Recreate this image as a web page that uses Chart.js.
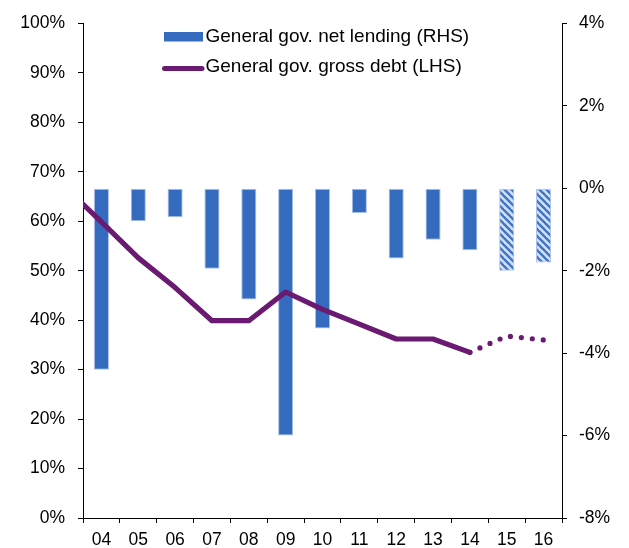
<!DOCTYPE html>
<html>
<head>
<meta charset="utf-8">
<script src="https://cdn.jsdelivr.net/npm/chart.js@4.4.1/dist/chart.umd.min.js"></script>
<style>
  html, body { margin: 0; padding: 0; background: #ffffff; }
  #wrap { width: 629px; height: 548px; }
</style>
</head>
<body>
<div id="wrap"><canvas id="c" width="629" height="548"></canvas></div>
<script>
// ---- data ----
const categories = ['04', '05', '06', '07', '08', '09', '10', '11', '12', '13', '14', '15', '16'];
const netLending = [-4.4, -0.8, -0.7, -1.95, -2.7, -6.0, -3.4, -0.6, -1.7, -1.25, -1.5, -2.0, -1.8];
const debtYears = [3, 4, 5, 6, 7, 8, 9, 10, 11, 12, 13, 14, 15, 16];
const grossDebt = [67.0, 59.9, 52.6, 46.6, 39.9, 39.9, 45.7, 42.2, 39.2, 36.2, 36.2, 33.5, 36.8, 36.0];
const forecastFrom = '15';
const leftTicks = [0, 10, 20, 30, 40, 50, 60, 70, 80, 90, 100];
const rightTicks = [-8, -6, -4, -2, 0, 2, 4];
const barLabel = 'General gov. net lending (RHS)';
const lineLabel = 'General gov. gross debt (LHS)';

// ---- styles ----
const BLUE = '#346bbf';
const BLUE_EDGE = '#a9c0e8';
const PURPLE = '#6a1a70';
const FONT = "'Liberation Sans', Arial, sans-serif";

function makeHatch() {
  const s = 7;
  const c = document.createElement('canvas');
  c.width = s; c.height = s;
  const g = c.getContext('2d');
  g.fillStyle = '#d2e0f4';
  g.fillRect(0, 0, s, s);
  g.strokeStyle = '#3f74c6';
  g.lineWidth = 2.4;
  for (const k of [-s, 0, s]) {
    g.beginPath();
    g.moveTo(k - 1, -1);
    g.lineTo(k + s + 1, s + 1);
    g.stroke();
  }
  return g.createPattern(c, 'repeat');
}
const hatch = makeHatch();
const forecastIdx = categories.indexOf(forecastFrom);
const barColors = categories.map((c, i) => i >= forecastIdx ? hatch : BLUE);

const lineData = debtYears.map((yr, i) => ({ x: yr - 4, y: grossDebt[i] }));
const lastActualIdx = debtYears.indexOf(14);

// custom legend drawn inside plot area
const insideLegend = {
  id: 'insideLegend',
  afterDraw(chart) {
    const ctx = chart.ctx;
    const ds = chart.data.datasets;
    ctx.save();
    ctx.font = '19px ' + FONT;
    ctx.textBaseline = 'middle';
    ctx.fillStyle = BLUE;
    ctx.fillRect(164, 32, 39, 9.5);
    ctx.fillStyle = '#000';
    ctx.fillText(ds[0].label, 205.5, 36.5);
    ctx.strokeStyle = ds[1].borderColor;
    ctx.lineWidth = 5;
    ctx.lineCap = 'round';
    ctx.beginPath();
    ctx.moveTo(164.5, 68.5);
    ctx.lineTo(202, 68.5);
    ctx.stroke();
    ctx.fillText(ds[1].label, 205.5, 66.5);
    ctx.restore();
  }
};

const tickFont = { family: FONT, size: 17.5 };

new Chart(document.getElementById('c'), {
  data: {
    labels: categories,
    datasets: [
      {
        type: 'bar',
        label: barLabel,
        data: netLending,
        yAxisID: 'y2',
        xAxisID: 'x',
        backgroundColor: barColors,
        borderColor: BLUE_EDGE,
        borderWidth: 1,
        borderSkipped: false,
        grouped: false,
        barPercentage: 0.41,
        categoryPercentage: 1.0,
        order: 2
      },
      {
        type: 'line',
        label: lineLabel,
        data: lineData,
        yAxisID: 'y',
        xAxisID: 'xl',
        borderColor: PURPLE,
        borderWidth: 5.2,
        borderCapStyle: 'round',
        borderJoinStyle: 'round',
        pointRadius: 0,
        tension: 0,
        fill: false,
        clip: 0,
        order: 1,
        segment: {
          borderDash: ctx => ctx.p0DataIndex >= lastActualIdx ? [0, 11] : undefined
        }
      }
    ]
  },
  options: {
    responsive: false,
    animation: false,
    events: [],
    layout: { padding: { top: 22, left: 0, right: 0, bottom: 0 } },
    plugins: {
      legend: { display: false },
      tooltip: { enabled: false }
    },
    scales: {
      x: {
        type: 'category',
        position: 'bottom',
        offset: true,
        grid: {
          offset: true,
          drawOnChartArea: false,
          drawTicks: true,
          tickLength: 5,
          color: '#000',
          lineWidth: 1
        },
        border: { color: '#000', width: 1 },
        ticks: { font: tickFont, color: '#000', padding: 7, maxRotation: 0, autoSkip: false },
        afterFit: s => { s.height = 30; }
      },
      xl: {
        type: 'linear',
        display: false,
        offset: false,
        min: -0.5,
        max: 12.5
      },
      y: {
        type: 'linear',
        position: 'left',
        min: 0,
        max: 100,
        afterBuildTicks: s => { s.ticks = leftTicks.map(v => ({ value: v })); },
        grid: {
          drawOnChartArea: false,
          drawTicks: true,
          tickLength: 5,
          color: '#000'
        },
        border: { color: '#000', width: 1 },
        ticks: { font: tickFont, color: '#000', padding: 13, callback: v => v + '%' },
        afterFit: s => { s.width = 83; }
      },
      y2: {
        type: 'linear',
        position: 'right',
        min: -8,
        max: 4,
        afterBuildTicks: s => { s.ticks = rightTicks.map(v => ({ value: v })); },
        grid: {
          drawOnChartArea: false,
          drawTicks: true,
          tickLength: 5,
          color: '#000'
        },
        border: { color: '#000', width: 1 },
        ticks: { font: tickFont, color: '#000', padding: 12, callback: v => v + '%' },
        afterFit: s => { s.width = 67; }
      }
    }
  },
  plugins: [insideLegend]
});
</script>
</body>
</html>
